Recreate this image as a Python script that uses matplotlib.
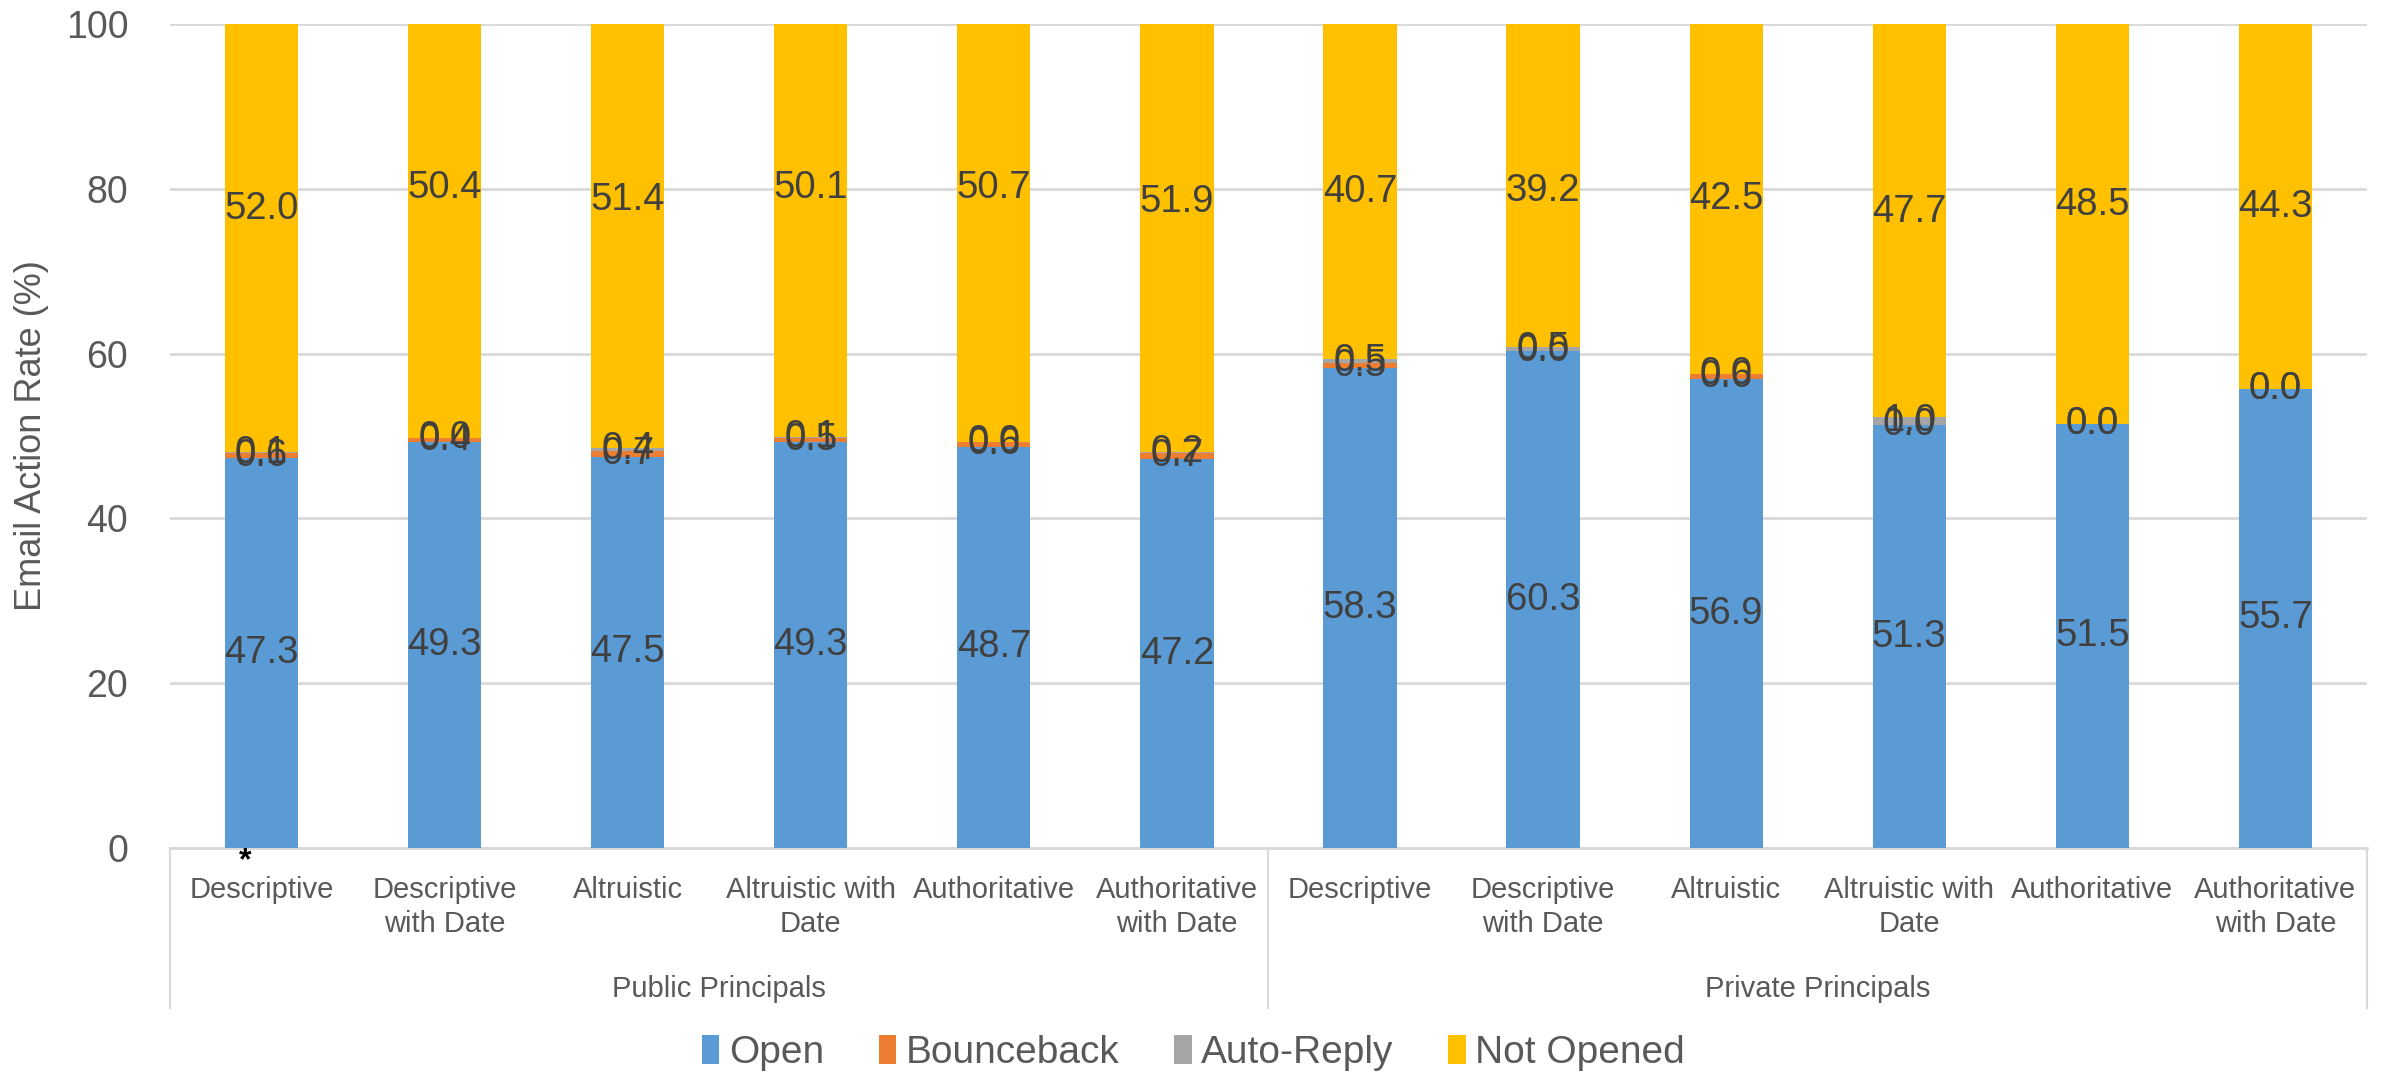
import numpy as np
import matplotlib
matplotlib.use("Agg")
import matplotlib.pyplot as plt
import matplotlib.transforms as mtransforms

plt.rcParams["font.family"] = ["Liberation Sans Narrow", "Liberation Sans", "DejaVu Sans"]

groups = ["Public Principals", "Private Principals"]
styles = [
    "Descriptive",
    "Descriptive\nwith Date",
    "Altruistic",
    "Altruistic with\nDate",
    "Authoritative",
    "Authoritative\nwith Date",
]
categories = styles + styles

open_rate = [47.3, 49.3, 47.5, 49.3, 48.7, 47.2, 58.3, 60.3, 56.9, 51.3, 51.5, 55.7]
bounceback = [0.6, 0.4, 0.7, 0.5, 0.6, 0.7, 0.5, 0.0, 0.6, 0.0, 0.0, 0.0]
auto_reply = [0.1, 0.0, 0.4, 0.1, 0.0, 0.2, 0.5, 0.5, 0.0, 1.0, 0.0, 0.0]
not_opened = [52.0, 50.4, 51.4, 50.1, 50.7, 51.9, 40.7, 39.2, 42.5, 47.7, 48.5, 44.3]

# upward nudge (in % units) for the "Not Opened" value labels
label_nudge = [3.6, 5.2, 4.4, 5.2, 5.4, 4.3, 0.0, -0.7, 0.0, 1.0, 2.3, 0.0]

series = [
    ("Open", open_rate, "#5B9BD5"),
    ("Bounceback", bounceback, "#ED7D31"),
    ("Auto-Reply", auto_reply, "#A5A5A5"),
    ("Not Opened", not_opened, "#FFC000"),
]

fig = plt.figure(figsize=(23.87, 10.78), dpi=100)
ax = fig.add_axes([0.0712, 0.2134, 0.9204, 0.7643])

x = np.arange(len(categories))
bottom = np.zeros(len(categories))
handles = []
for name, vals, color in series:
    vals = np.array(vals)
    bars = ax.bar(x, vals, 0.4, bottom=bottom, color=color, label=name, zorder=2)
    handles.append(bars)
    nudge = label_nudge if name == "Not Opened" else [0.0] * len(vals)
    for xi, b, v, dn in zip(x, bottom, vals, nudge):
        ax.text(xi, b + v / 2 + dn, f"{v:.1f}", ha="center", va="center",
                fontsize=27.5, color="#404040", family="Liberation Sans", zorder=3)
    bottom += vals

ax.set_xlim(-0.5, len(categories) - 0.5)
ax.set_ylim(0, 100)
ax.set_yticks(range(0, 101, 20))
ax.tick_params(axis="y", length=0, pad=30, labelsize=27, labelcolor="#595959")
for lbl in ax.get_yticklabels():
    lbl.set_family("Liberation Sans")
ax.yaxis.grid(True, color="#D9D9D9", linewidth=2, zorder=0)
ax.set_ylabel("Email Action Rate (%)", fontsize=26, color="#595959")
ax.yaxis.set_label_coords(-0.055, 0.5)

ax.set_xticks(x)
ax.set_xticklabels(categories, fontsize=21, color="#595959", linespacing=1.3)
ax.tick_params(axis="x", length=0, pad=20)

for side in ["top", "right", "left", "bottom"]:
    ax.spines[side].set_visible(False)

# category axis frame: baseline plus separators between principal groups
trans = mtransforms.blended_transform_factory(ax.transData, ax.transAxes)
ax.plot([-0.5, len(categories) - 0.5], [0, 0], color="#D9D9D9", lw=2,
        transform=trans, clip_on=False, zorder=1)
for sep in [-0.5, 5.5, 11.5]:
    ax.plot([sep, sep], [0, -0.194], color="#D9D9D9", lw=1.5,
            transform=trans, clip_on=False)
for gi, g in enumerate(groups):
    ax.text(gi * 6 + 2.5, -0.171, g, transform=trans, ha="center", va="center",
            fontsize=21, color="#595959")

# significance marker under the first bar
ax.text(-0.09, -0.016, "*", transform=trans, ha="center", va="center",
        fontsize=23, color="black", fontweight="bold", family="Liberation Sans")

fig.legend(handles=handles, labels=[s[0] for s in series], loc="center",
           bbox_to_anchor=(0.5, 0.023), ncol=4, frameon=False, fontsize=28,
           handlelength=0.45, handleheight=0.75, handletextpad=0.25,
           columnspacing=1.4, labelcolor="#595959")

fig.savefig("out.png", dpi=100)
